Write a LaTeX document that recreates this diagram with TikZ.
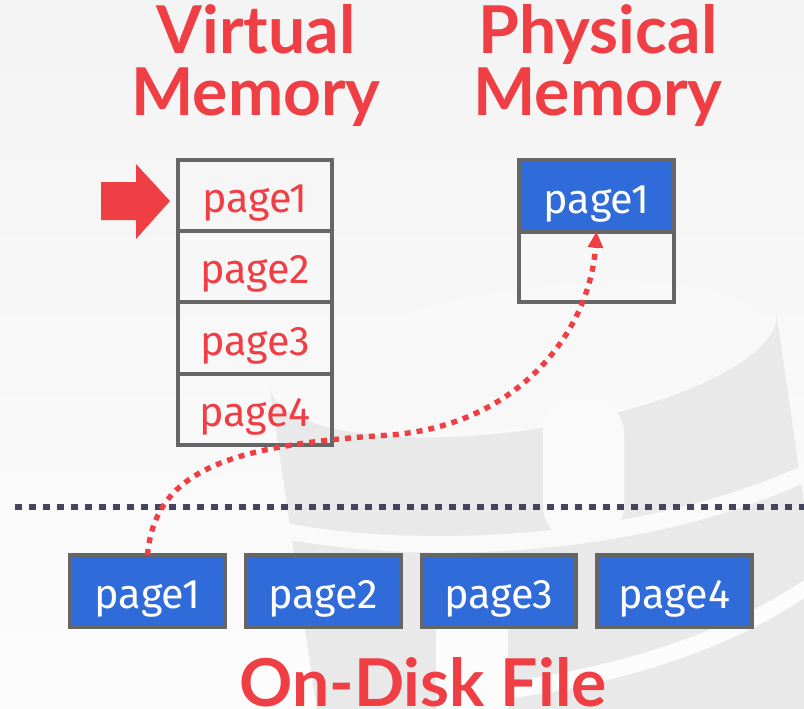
\documentclass[tikz,border=0pt]{standalone}
\usepackage{fontspec}
\setmainfont{Fira Sans}
\newfontfamily\titlefont{Lato}
\usetikzlibrary{positioning,calc,arrows.meta}
\definecolor{slidered}{RGB}{239,62,68}
\definecolor{pageblue}{RGB}{47,107,217}
\definecolor{cellgray}{RGB}{102,102,102}
\definecolor{dividernavy}{RGB}{68,68,94}
\definecolor{wmgray}{RGB}{233,233,233}
\definecolor{wmhigh}{RGB}{248,248,248}
\definecolor{wmmid}{RGB}{250,250,250}
\definecolor{wmlow}{RGB}{252,252,252}

\begin{document}
\begin{tikzpicture}[x=0.75pt, y=-0.75pt,
    cell/.style={draw=cellgray, line width=3pt, minimum width=115.5pt, minimum height=53.4pt,
        inner sep=0pt, outer sep=0pt, text height=25.5pt, text depth=0pt,
        text=slidered, font=\fontsize{31}{32}\selectfont},
    fullcell/.style={cell, fill=pageblue, text=white},
    diskpage/.style={fullcell, minimum width=116pt, minimum height=54pt},
    heading/.style={text=slidered, align=center, anchor=base,
        font=\titlefont\bfseries\fontsize{49.5}{46.5}\selectfont},
    fetch/.style={draw=slidered, line width=4pt, dash pattern=on 4.5pt off 4.5pt,
        -{Triangle[length=12pt, width=11pt]}},
    divider/.style={draw=dividernavy, line width=4.8pt, dash pattern=on 5pt off 5.5pt}]

    % Slide background
    \useasboundingbox (0,0) rectangle (804,708);
    \fill[top color=black!4.5, bottom color=black!1] (0,0) rectangle (804,708);

    % Faint database watermark
    \begin{scope}
        \clip (0,0) rectangle (804,708);
        \fill[wmgray, rotate around={8.3:(523,350)}] (267,350) arc[start angle=180, end angle=0, x radius=256, y radius=80]
            -- (779,450) -- (779,760) -- (267,760) -- cycle;
        \fill[wmhigh, rotate around={8.5:(522,358)}] (522,358) ellipse [x radius=240, y radius=69];
        \fill[wmmid, rounded corners=25pt] (543,400) rectangle (624,540);
        \fill[wmmid] (270,520) .. controls (420,552) and (650,538) .. (810,462) -- (810,480)
            .. controls (650,556) and (420,568) .. (270,536) -- cycle;
        \fill[wmlow, rounded corners=25pt] (436,575) rectangle (508,740);
        \fill[wmlow] (505,682) .. controls (620,667) and (730,632) .. (810,576) -- (810,594)
            .. controls (730,650) and (620,684) .. (505,699) -- cycle;
    \end{scope}

    % Headings
    \node[heading] (virtTitle) at (256,115) {Virtual\\Memory};
    \node[heading] (physTitle) at (598,115) {Physical\\Memory};
    \node[heading] (diskTitle) at (423,706) {On-Disk File};

    % Virtual memory pages
    \node[cell] (v1) at (255,195.6) {page1};
    \node[cell, below=0pt of v1] (v2) {page2};
    \node[cell, below=0pt of v2] (v3) {page3};
    \node[cell, below=0pt of v3] (v4) {page4};

    % Cursor
    \fill[slidered] (101,182) -- (136,182) -- (136,164) -- (170,201)
        -- (136,239) -- (136,220) -- (101,220) -- cycle;

    % Physical memory frames
    \node[fullcell, minimum width=116.25pt] (p1) at (596.5,196) {page1};
    \node[cell, minimum width=116.25pt, minimum height=52.5pt, below=0pt of p1] (p2) {};

    % Separator
    \coordinate (sepL) at (15,507);
    \coordinate (sepR) at (804,507);
    \draw[divider] (sepL) -- (sepR);

    % On-disk pages
    \node[diskpage] (d1) at (147.5,591) {page1};
    \foreach \i [count=\j from 1] in {2,3,4}
        \node[diskpage, right=15.75pt of d\j] (d\i) {page\i};

    % Page fetch
    \draw[fetch] (d1.north) .. controls (155,470) and (230,445) .. (390,435)
        .. controls (520,425) and (590,330) .. (p1.south);
\end{tikzpicture}
\end{document}
